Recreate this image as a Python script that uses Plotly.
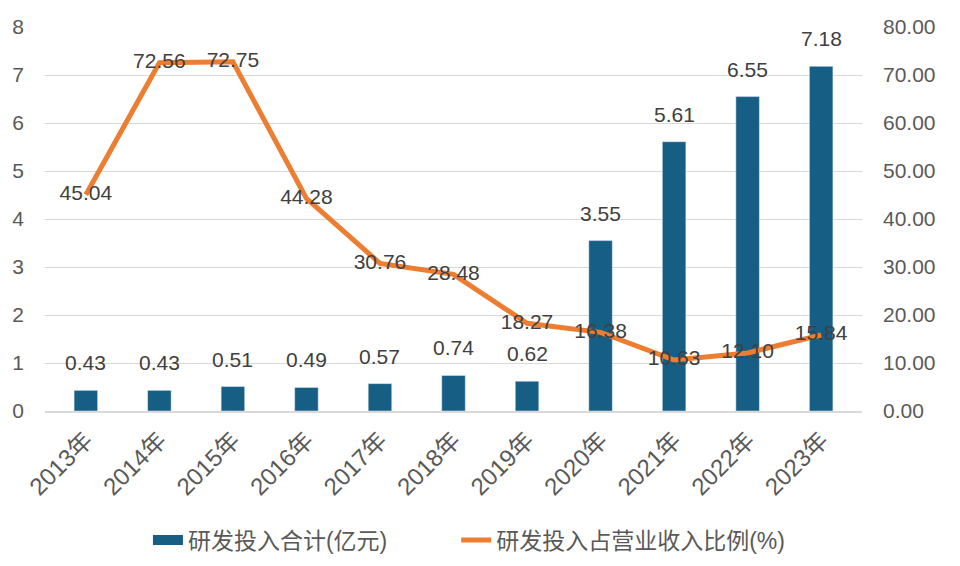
import plotly.graph_objects as go

years = ["2013年", "2014年", "2015年", "2016年", "2017年", "2018年", "2019年", "2020年", "2021年", "2022年", "2023年"]
rd_total = [0.43, 0.43, 0.51, 0.49, 0.57, 0.74, 0.62, 3.55, 5.61, 6.55, 7.18]
rd_ratio = [45.04, 72.56, 72.75, 44.28, 30.76, 28.48, 18.27, 16.38, 10.63, 12.10, 15.84]

FONT = "Liberation Sans, Arial, Noto Sans CJK SC, sans-serif"
GRAY = "#595959"
BAR = "#175E84"
LINE = "#ED7D31"
PAD = "\u00a0" * 10

fig = go.Figure()
fig.add_trace(go.Bar(
    x=years, y=rd_total, name="研发投入合计(亿元)",
    marker_color=BAR, width=0.32, showlegend=False,
))
# legend swatch for bars (wide rectangle like the original)
fig.add_trace(go.Scatter(
    x=[None], y=[None], mode="lines", name="研发投入合计(亿元)" + PAD,
    line=dict(color=BAR, width=12),
))
fig.add_trace(go.Scatter(
    x=years, y=rd_ratio, name="研发投入占营业收入比例(%)", yaxis="y2",
    mode="lines+text", line=dict(color=LINE, width=5),
    text=[f"{v:.2f}" for v in rd_ratio], textposition="middle center",
    textfont=dict(size=21, color="#404040", family=FONT),
    cliponaxis=False,
))

for yr, v in zip(years, rd_total):
    fig.add_annotation(x=yr, y=v, xref="x", yref="y", text=f"{v:.2f}",
                       showarrow=False, yanchor="bottom", yshift=14,
                       font=dict(size=21, color="#404040", family=FONT))

fig.update_layout(
    width=960, height=566,
    margin=dict(l=45, r=98, t=27, b=155, autoexpand=False),
    paper_bgcolor="white", plot_bgcolor="white",
    font=dict(family=FONT, color=GRAY, size=18),
    showlegend=True,
    legend=dict(orientation="h", x=0.126, xanchor="left", y=-0.28, yanchor="top",
                font=dict(size=23, color=GRAY, family=FONT),
                traceorder="normal"),
    xaxis=dict(tickangle=-45, tickfont=dict(size=24, color=GRAY), showline=True,
               linecolor="#d9d9d9", linewidth=1.5, showgrid=False, automargin=False,
               ticklabelstandoff=4),
    yaxis=dict(range=[0, 8], dtick=1, showgrid=True, gridcolor="#d9d9d9", gridwidth=1,
               zeroline=False, tickfont=dict(size=21, color=GRAY), ticklabelstandoff=20,
               automargin=False),
    yaxis2=dict(range=[0, 80], dtick=10, tickformat=".2f", overlaying="y", side="right",
                showgrid=False, zeroline=False, tickfont=dict(size=21, color=GRAY),
                ticklabelstandoff=20, automargin=False),
    bargap=0.68,
)

fig.write_html("out.html")
